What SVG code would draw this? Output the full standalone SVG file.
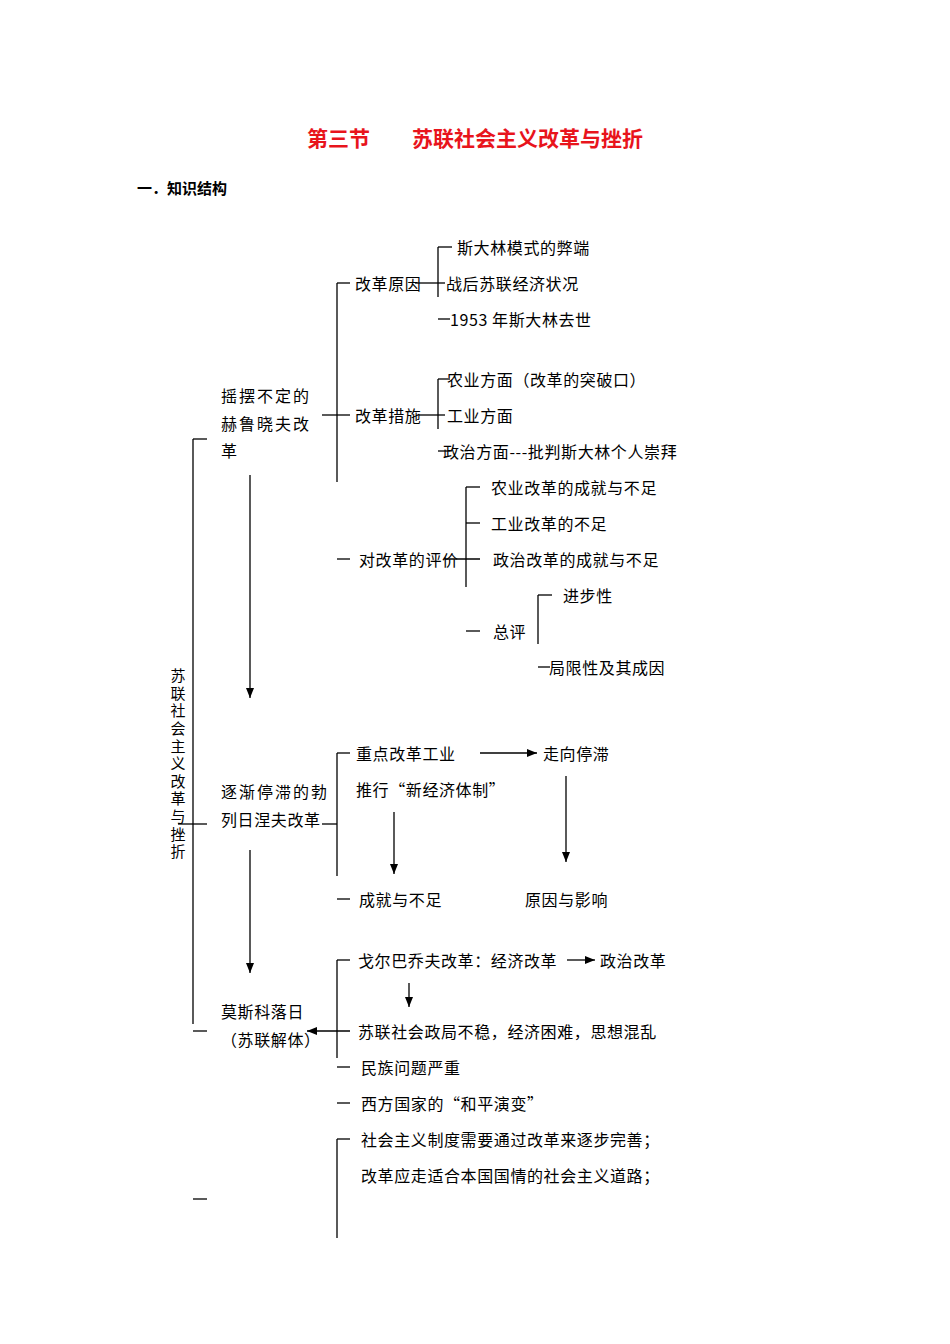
<svg xmlns="http://www.w3.org/2000/svg" width="950" height="1344" viewBox="0 0 950 1344">
<style>
text{font-family:"Noto Sans CJK SC","Liberation Sans",sans-serif;font-size:16px;fill:#000;dominant-baseline:central;letter-spacing:0.6px}
.n1{letter-spacing:2px}
.v{font-size:15px;writing-mode:vertical-rl;text-orientation:upright;letter-spacing:2.6px}
line{stroke:#000;stroke-width:1.3}
</style>
<defs><marker id="a" viewBox="0 0 10 10" refX="10" refY="5" markerWidth="10" markerHeight="10" markerUnits="userSpaceOnUse" orient="auto"><path d="M0,1 L10,5 L0,9 z" fill="#000"/></marker></defs>
<rect width="950" height="1344" fill="#fff"/>
<text x="475" y="137" text-anchor="middle" style="font-size:21px;font-weight:bold;fill:#e8141c;letter-spacing:0">第三节　　苏联社会主义改革与挫折</text>
<text x="137" y="187" style="font-size:15px;font-weight:bold;letter-spacing:0">一．知识结构</text>
<g id="root">
<text class="v" x="178" y="668">苏联社会主义改革与挫折</text>
</g>
<g id="n1">
<text class="n1" x="221" y="395">摇摆不定的</text><text class="n1" x="221" y="423">赫鲁晓夫改</text><text class="n1" x="221" y="450">革</text>
<text x="355" y="283">改革原因</text>
<text x="457" y="247">斯大林模式的弊端</text><text x="446" y="283">战后苏联经济状况</text><text x="450" y="319">1953 年斯大林去世</text>
<text x="355" y="415">改革措施</text>
<text x="447" y="379">农业方面（改革的突破口）</text><text x="447" y="415">工业方面</text><text x="443" y="451">政治方面---批判斯大林个人崇拜</text>
<text x="359" y="559">对改革的评价</text>
<text x="491" y="487">农业改革的成就与不足</text><text x="491" y="523">工业改革的不足</text><text x="493" y="559">政治改革的成就与不足</text>
<text x="493" y="631">总评</text><text x="563" y="595">进步性</text><text x="549" y="667">局限性及其成因</text>
</g>
<g id="n2">
<text class="n1" x="221" y="791">逐渐停滞的勃</text><text x="221" y="819">列日涅夫改革</text>
<text x="356" y="753">重点改革工业</text><text x="543" y="753">走向停滞</text>
<text x="356" y="789">推行“新经济体制”</text>
<text x="359" y="899">成就与不足</text><text x="525" y="899">原因与影响</text>
</g>
<g id="n3">
<text x="221" y="1011">莫斯科落日</text><text x="221" y="1039">（苏联解体）</text>
<text x="358" y="960">戈尔巴乔夫改革：经济改革</text><text x="600" y="960">政治改革</text>
<text x="358" y="1031">苏联社会政局不稳，经济困难，思想混乱</text>
<text x="361" y="1067">民族问题严重</text><text x="361" y="1103">西方国家的“和平演变”</text>
<text x="361" y="1139">社会主义制度需要通过改革来逐步完善；</text><text x="361" y="1175">改革应走适合本国国情的社会主义道路；</text>
</g>
<g id="connectors">
<line x1="193" y1="439" x2="193" y2="1024"/><line x1="193" y1="439" x2="207" y2="439"/>
<line x1="193" y1="1031" x2="207" y2="1031"/><line x1="193" y1="1199" x2="207" y2="1199"/>
<line x1="178" y1="824" x2="207" y2="824"/>
<line x1="322" y1="415" x2="350" y2="415"/>
<line x1="337" y1="283" x2="337" y2="482"/><line x1="337" y1="283" x2="350" y2="283"/>
<line x1="415" y1="283" x2="445" y2="283"/>
<line x1="438" y1="247" x2="438" y2="297"/><line x1="438" y1="247" x2="452" y2="247"/>
<line x1="438" y1="319" x2="450" y2="319"/>
<line x1="419" y1="415" x2="445" y2="415"/>
<line x1="438" y1="379" x2="438" y2="429"/><line x1="438" y1="379" x2="450" y2="379"/>
<line x1="438" y1="451" x2="450" y2="451"/>
<line x1="337" y1="559" x2="350" y2="559"/>
<line x1="466" y1="487" x2="466" y2="587"/><line x1="466" y1="487" x2="480" y2="487"/><line x1="466" y1="523" x2="480" y2="523"/>
<line x1="445" y1="559" x2="480" y2="559"/>
<line x1="466" y1="631" x2="480" y2="631"/>
<line x1="538" y1="595" x2="538" y2="644"/><line x1="538" y1="595" x2="552" y2="595"/>
<line x1="538" y1="667" x2="550" y2="667"/>
<line x1="250" y1="475" x2="250" y2="698" marker-end="url(#a)"/>
<line x1="322" y1="824" x2="337" y2="824"/>
<line x1="337" y1="753" x2="337" y2="876"/><line x1="337" y1="753" x2="350" y2="753"/>
<line x1="480" y1="753" x2="537" y2="753" marker-end="url(#a)"/>
<line x1="394" y1="812" x2="394" y2="874" marker-end="url(#a)"/>
<line x1="566" y1="776" x2="566" y2="862" marker-end="url(#a)"/>
<line x1="337" y1="899" x2="350" y2="899"/>
<line x1="250" y1="850" x2="250" y2="973" marker-end="url(#a)"/>
<line x1="337" y1="960" x2="337" y2="1058"/><line x1="337" y1="960" x2="350" y2="960"/>
<line x1="567" y1="960" x2="595" y2="960" marker-end="url(#a)"/>
<line x1="409" y1="983" x2="409" y2="1007" marker-end="url(#a)"/>
<line x1="350" y1="1031" x2="307" y2="1031" marker-end="url(#a)"/>
<line x1="337" y1="1067" x2="350" y2="1067"/><line x1="337" y1="1103" x2="350" y2="1103"/>
<line x1="337" y1="1139" x2="337" y2="1238"/><line x1="337" y1="1139" x2="350" y2="1139"/>
</g>
</svg>
